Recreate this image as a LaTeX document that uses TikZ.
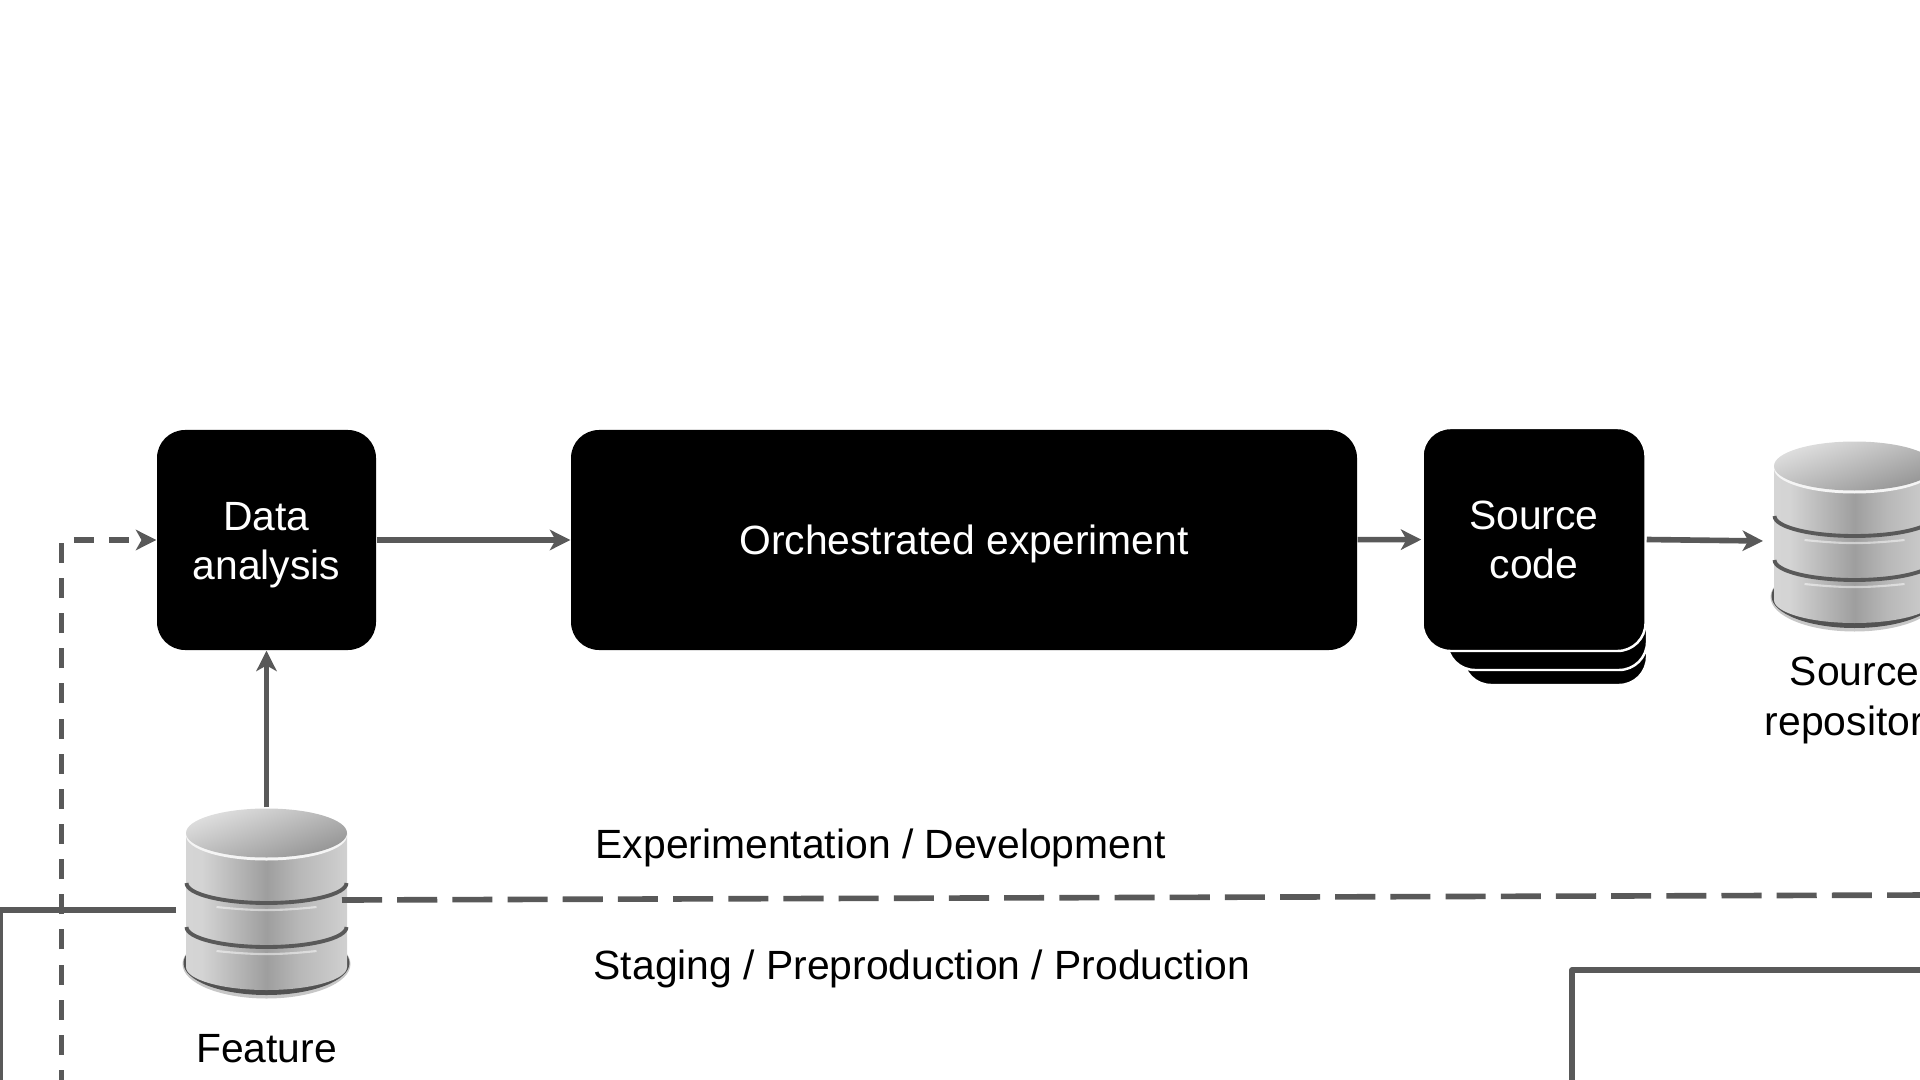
\documentclass[tikz,border=0pt]{standalone}
\usepackage{fontspec}
\setmainfont{Liberation Sans}
\usetikzlibrary{positioning,arrows.meta}
\definecolor{linegray}{HTML}{595959}
\newcommand{\padstrut}{\rule[-4.2pt]{0pt}{16.8pt}}
\pgfdeclarehorizontalshading{dbside}{100bp}{
	color(0bp)=(black!30); color(12bp)=(black!15); color(30bp)=(black!17);
	color(50bp)=(black!38); color(60bp)=(black!28); color(85bp)=(black!12); color(100bp)=(black!30)}
\tikzset{
	stepbox/.style={fill=black,text=white,rounded corners=0.28cm,minimum height=2.2cm,inner sep=0pt,align=center,font=\fontsize{11.62}{14}\selectfont},
	backbox/.style={fill=black,draw=white,line width=0.7pt,rounded corners=0.28cm,minimum height=2.22cm,inner sep=0pt},
	dbnode/.style={minimum width=1.6cm,minimum height=1.82cm,inner sep=0pt},
	lbl/.style={align=center,inner sep=0pt,font=\fontsize{11.62}{14}\selectfont},
	conn/.style={linegray,line width=1.6pt,-{Stealth[length=5.8pt,width=5.8pt,inset=1.6pt]}},
	bare/.style={linegray,line width=1.6pt},
	dbstack/.pic={
		\fill[black!22] (0,-1.31) ellipse (0.84 and 0.345);
		\fill[black!68] (0,-1.3) ellipse (0.83 and 0.32);
		\shade[shading=dbside] (-0.805,0) -- (-0.805,-1.34) arc[start angle=180,end angle=360,x radius=0.805,y radius=0.23] -- (0.805,0) -- cycle;
		\foreach \y in {-0.5,-0.94}{
			\draw[white,line width=0.6pt,opacity=0.5] (-0.5,\y-0.24) to[bend right=6] (0.5,\y-0.24);
			\draw[black!65,line width=1.1pt] (-0.8,\y) arc[start angle=180,end angle=360,x radius=0.8,y radius=0.2];}
		\fill[black!4] (0,-0.025) ellipse (0.805 and 0.25);
		\shade[left color=black!12,right color=black!42,shading angle=20] (0,0) ellipse (0.805 and 0.245);
	}
}
\begin{document}
\begin{tikzpicture}[line join=round, >=stealth]
	\useasboundingbox (0,0) rectangle (19.2,-10.8);
	% boxes
	\node[stepbox,minimum width=2.19cm] (data) at (2.665,-5.4) {\padstrut Data\\analysis\strut};
	\node[stepbox,minimum width=7.86cm] (orch) at (9.64,-5.4) {\padstrut Orchestrated experiment};
	\node[backbox,minimum width=1.84cm] (codeback) at (15.55,-5.74) {};
	\node[backbox,minimum width=2cm] (codemid) at (15.47,-5.59) {};
	\node[stepbox,draw=white,line width=0.7pt,minimum width=2.23cm,minimum height=2.23cm] (code) at (15.34,-5.395) {\padstrut Source\\code\strut};
	% stores
	\pic at (2.665,-8.33) {dbstack};
	\node[dbnode] (feature) at (2.665,-8.99) {};
	\pic at (18.545,-4.66) {dbstack};
	\node[dbnode] (repo) at (18.545,-5.32) {};
	\node[lbl,below=0.43cm of feature] (featurelbl) {Feature};
	\node[lbl,below=0.33cm of repo] (repolbl) {Source\\repository};
	\node[lbl,anchor=west] (devlbl) at (5.95,-8.49) {Experimentation / Development\strut};
	\node[lbl,anchor=west] (prodlbl) at (5.93,-9.70) {Staging / Preproduction / Production\strut};
	% free ends
	\coordinate (repoin) at (17.63,-5.41);
	\coordinate (dashend) at (19.3,-8.95);
	\coordinate (dashstart) at (3.42,-9.0);
	\coordinate (loopbottom) at (0.615,-10.9);
	\coordinate (leftbottom) at (0,-10.9);
	\coordinate (leftstart) at (1.76,-9.1);
	\coordinate (prodcorner) at (15.72,-9.7);
	\coordinate (prodright) at (19.3,-9.7);
	\coordinate (prodbottom) at (15.72,-10.9);
	% connectors
	\draw[conn] (feature.north) -- (data.south);
	\draw[conn] (data) -- (orch);
	\draw[conn] (orch) -- (code);
	\draw[conn] (code.east) -- (repoin);
	\draw[conn,dash pattern=on 5.7pt off 4.3pt] (loopbottom) |- (data.west);
	\draw[bare,dash pattern=on 11.4pt off 4.3pt] (dashstart) -- (dashend);
	\draw[bare] (leftstart) -| (leftbottom);
	\draw[bare] (prodright) -- (prodcorner) -- (prodbottom);
\end{tikzpicture}
\end{document}
